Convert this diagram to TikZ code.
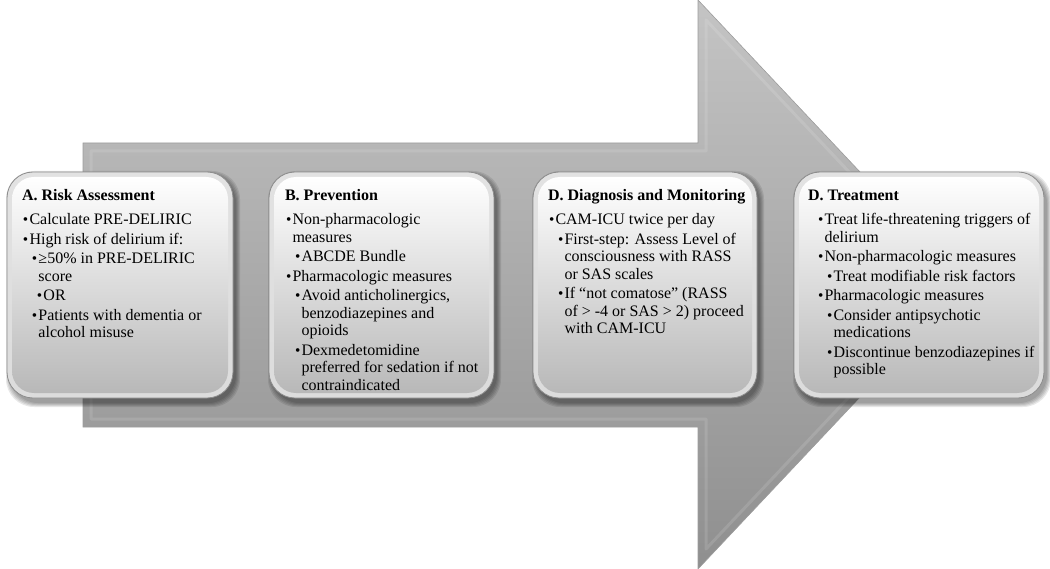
\documentclass[tikz,border=0pt]{standalone}
\usepackage{fontspec}
\usepackage{graphicx}
\setmainfont{Liberation Serif}
\usetikzlibrary{calc}
\definecolor{arrtop}{HTML}{C4C4C4}
\definecolor{arrbot}{HTML}{8F8F8F}
\definecolor{arrline}{HTML}{9C9C9C}
\definecolor{rimtop}{HTML}{E2E2E2}
\definecolor{rimbot}{HTML}{DCDCDC}
\definecolor{rimline}{HTML}{8C8C8C}
\definecolor{facemid}{HTML}{E8E8E8}
\definecolor{facebot}{HTML}{B8B8B8}
\tikzset{
  arrowbody/.style={top color=arrtop, bottom color=arrbot, draw=arrline, line width=0.6pt},
  bevel/.style={draw=white, opacity=0.12, line width=3pt, line join=round},
  boxrim/.style={rounded corners=26pt, top color=rimtop, bottom color=rimbot, draw=rimline, line width=0.8pt, inner sep=0pt, outer sep=0pt},
  boxface/.style={rounded corners=22pt, top color=white, middle color=facemid, bottom color=facebot},
  boxshadow/.style={fill=black, opacity=0.09, rounded corners=28pt},
  txt/.style={anchor=base west, inner sep=0pt, outer sep=0pt}
}
\newcommand\glossbox[5]{%
  \foreach \k in {0,1,2,3,4}{%
    \path[boxshadow] ({#2+3-\k},{#3+3-\k}) rectangle ({#2+#4+3+\k},{#3+#5+5+\k});}
  \node[boxrim, minimum width=#4pt, minimum height=#5pt, anchor=north west] (#1) at (#2,#3) {};
  \path[boxface] ({#2+5},{#3+5}) rectangle ({#2+#4-5},{#3+#5-5});
}
\newcommand\bul{\raisebox{0.3pt}{\scalebox{0.95}{\textbullet}}}
\newcommand\ttl[2][-1pt]{\noindent\hspace*{#1}\textbf{#2}\par\vspace{4.5pt}}
\newcommand\la[1]{\par\hangindent=6.5pt\hangafter=1\noindent\makebox[6.5pt][l]{\bul}#1\par}
\newcommand\lb[1]{\par\hangindent=15.5pt\hangafter=1\noindent\hspace*{9pt}\makebox[6.5pt][l]{\bul}#1\par}
\newcommand\lc[1]{\par\hangindent=20.5pt\hangafter=1\noindent\hspace*{14pt}\makebox[6.5pt][l]{\bul}#1\par}
\newenvironment{boxtext}{\begin{minipage}[t]{250pt}\fontsize{16pt}{17.5pt}\selectfont\raggedright\parindent=0pt\parskip=2pt}{\end{minipage}}
\begin{document}
\begin{tikzpicture}[x=1pt,y=-1pt]
\useasboundingbox (0,0) rectangle (1050,569);
% big arrow
\path[arrowbody] (83,143) -- (698,143) -- (698,0) -- (966,284.5) -- (698,569) -- (698,427) -- (83,427) -- cycle;
\path[bevel] (91,151) -- (706,151) -- (706,20) -- (955,284.5) -- (706,549) -- (706,419) -- (91,419) -- cycle;
% boxes
\glossbox{boxA}{7}{172}{226}{226}
\glossbox{boxB}{269}{172}{225}{226}
\glossbox{boxC}{533}{172}{224}{226}
\glossbox{boxD}{794}{172}{250}{226}
% texts
\node[txt] (tA) at (23,201) {\begin{boxtext}
\ttl{A. Risk Assessment}
\la{Calculate PRE-DELIRIC}
\la{High risk of delirium if:}
\lb{≥50\% in PRE-DELIRIC\newline score}
\lc{OR}
\lb{Patients with dementia or\newline alcohol misuse}
\end{boxtext}};
\node[txt] (tB) at (286,201) {\begin{boxtext}
\ttl{B. Prevention}
\la{Non-pharmacologic\newline measures}
\lb{ABCDE Bundle}
\la{Pharmacologic measures}
\lb{Avoid anticholinergics,\newline benzodiazepines and\newline opioids}
\lb{Dexmedetomidine\newline preferred for sedation if not\newline contraindicated}
\end{boxtext}};
\node[txt] (tC) at (549,201) {\begin{boxtext}
\ttl{D. Diagnosis and Monitoring}
\la{CAM-ICU twice per day}
\lb{First-step: Assess Level of\newline consciousness with RASS\newline or SAS scales}
\lb{If “not comatose” (RASS\newline of > -4 or SAS > 2) proceed\newline with CAM-ICU}
\end{boxtext}};
\node[txt] (tD) at (818,201) {\begin{boxtext}
\ttl[-10pt]{D. Treatment}
\la{Treat life-threatening triggers of\newline delirium}
\la{Non-pharmacologic measures}
\lb{Treat modifiable risk factors}
\la{Pharmacologic measures}
\lb{Consider antipsychotic\newline medications}
\lb{Discontinue benzodiazepines if\newline possible}
\end{boxtext}};
\end{tikzpicture}
\end{document}
